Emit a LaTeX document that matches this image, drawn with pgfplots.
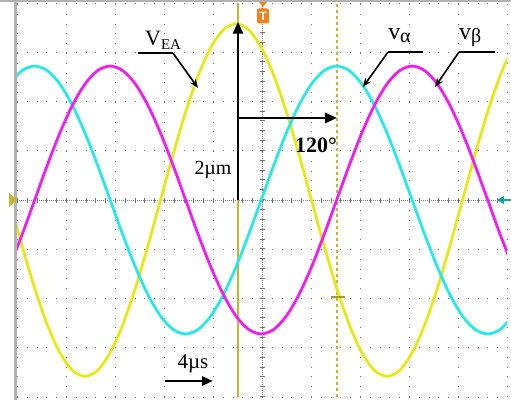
\documentclass[border=0pt]{standalone}
\usepackage{fontspec}
\setmainfont{Liberation Serif}
\usepackage{pgfplots}
\pgfplotsset{compat=1.18}
\usepackage{pgfplotstable}
\usetikzlibrary{arrows.meta}

\definecolor{trY}{RGB}{232,232,24}
\definecolor{trC}{RGB}{40,232,232}
\definecolor{trM}{RGB}{240,30,240}
\definecolor{curs}{RGB}{196,184,40}
\definecolor{trig}{RGB}{242,130,30}
\definecolor{tealm}{RGB}{30,160,160}

% t in us (4 us/div), voltages in divisions
\pgfplotstableread{
t        ea      a       b
-20.612  0.000   2.356  -1.360
-19.585 -0.927   2.627  -0.704
-18.557 -1.790   2.720   0.000
-17.530 -2.531   2.627   0.704
-16.503 -3.100   2.356   1.360
-15.476 -3.458   1.923   1.923
-14.448 -3.580   1.360   2.356
-13.421 -3.458   0.704   2.627
-12.394 -3.100   0.000   2.720
-11.367 -2.531  -0.704   2.627
-10.339 -1.790  -1.360   2.356
-9.312  -0.927  -1.923   1.923
-8.285   0.000  -2.356   1.360
-7.258   0.927  -2.627   0.704
-6.231   1.790  -2.720   0.000
-5.203   2.531  -2.627  -0.704
-4.176   3.100  -2.356  -1.360
-3.149   3.458  -1.923  -1.923
-2.122   3.580  -1.360  -2.356
-1.095   3.458  -0.704  -2.627
-0.067   3.100   0.000  -2.720
 0.960   2.531   0.704  -2.627
 1.987   1.790   1.360  -2.356
 3.014   0.927   1.923  -1.923
 4.041   0.000   2.356  -1.360
 5.068  -0.927   2.627  -0.704
 6.096  -1.790   2.720   0.000
 7.123  -2.531   2.627   0.704
 8.150  -3.100   2.356   1.360
 9.177  -3.458   1.923   1.923
10.205  -3.580   1.360   2.356
11.232  -3.458   0.704   2.627
12.259  -3.100   0.000   2.720
13.286  -2.531  -0.704   2.627
14.313  -1.790  -1.360   2.356
15.341  -0.927  -1.923   1.923
16.368   0.000  -2.356   1.360
17.395   0.927  -2.627   0.704
18.422   1.790  -2.720   0.000
19.450   2.531  -2.627  -0.704
20.477   3.100  -2.356  -1.360
}\scopedata

\begin{document}
\begin{tikzpicture}
\useasboundingbox (0,0) rectangle (511bp,400bp);

\begin{axis}[
    at={(17bp,3bp)}, anchor=south west,
    scale only axis, width=490bp, height=394bp,
    xmin=-20, xmax=20, ymin=-4, ymax=4,
    xtick={-20,-16,...,20}, ytick={-4,-3,...,4},
    xticklabels={}, yticklabels={},
    major tick length=0pt,
    axis line style={draw=none},
    grid=major,
    major grid style={black!55, line width=0.9bp, dash pattern=on 0.9bp off 8.9bp},
]

% centre axes with minor ticks
\draw[black!50, dash pattern=on 0.8bp off 1.2bp] (axis cs:-20,0) -- (axis cs:20,0);
\draw[black!55, line width=5bp, dash pattern=on 0.8bp off 9bp] (axis cs:-20,0) -- (axis cs:20,0);
\draw[black!50, dash pattern=on 0.8bp off 1.2bp] (axis cs:0,-4) -- (axis cs:0,4);
\draw[black!55, line width=5bp, dash pattern=on 0.8bp off 9.05bp] (axis cs:0,-4) -- (axis cs:0,4);

% cursors
\draw[curs, line width=1.4bp] (axis cs:-1.959,-4) -- (axis cs:-1.959,4);
\draw[curs, line width=1.2bp, dash pattern=on 3bp off 3bp] (axis cs:6.122,-4) -- (axis cs:6.122,4);

% traces
\addplot[trY, line width=2.8bp, smooth, no markers] table[x=t, y=ea] {\scopedata};
\addplot[trC, line width=2.8bp, smooth, no markers] table[x=t, y=a] {\scopedata};
\addplot[trM, line width=2.8bp, smooth, no markers] table[x=t, y=b] {\scopedata};

% annotations
\draw[line width=2.8bp, -{Triangle[length=12bp,width=10bp]}] (axis cs:-1.959,0) -- (axis cs:-1.959,3.62);
\draw[line width=2.8bp, -{Triangle[length=12bp,width=10bp]}] (axis cs:-1.959,1.665) -- (axis cs:6.122,1.665);
\draw[line width=2.8bp, -{Triangle[length=11bp,width=9bp]}] (axis cs:-7.92,-3.675) -- (axis cs:-4.0,-3.675);

\node[font=\fontsize{22}{24}\selectfont\bfseries] at (axis cs:4.41,1.117) {120°};
\node[font=\fontsize{20}{22}\selectfont] at (axis cs:-4.0,0.609) {2µm};
\node[font=\fontsize{21}{22}\selectfont] at (axis cs:-5.63,-3.33) {4µs};

% V_EA
\node[anchor=base west, inner sep=0, font=\fontsize{22}{24}\selectfont] at (axis cs:-9.55,3.147)
    {V\raisebox{-4bp}{\fontsize{15}{16}\selectfont EA}};
\draw[line width=1.2bp] (axis cs:-10.12,2.985) -- (axis cs:-7.27,2.985);
\draw[line width=1.6bp, -{Stealth[length=9bp,width=7bp]}] (axis cs:-7.27,2.985) -- (axis cs:-5.22,2.274);

% v_alpha
\node[anchor=base west, inner sep=0, font=\fontsize{24}{26}\selectfont] at (axis cs:10.29,3.249)
    {v\raisebox{-3bp}{\fontsize{20}{22}\selectfont α}};
\draw[line width=1.2bp] (axis cs:13.14,3.005) -- (axis cs:10.29,3.005);
\draw[line width=1.6bp, -{Stealth[length=9bp,width=7bp]}] (axis cs:10.29,3.005) -- (axis cs:8.24,2.294);

% v_beta
\node[anchor=base west, inner sep=0, font=\fontsize{24}{26}\selectfont] at (axis cs:16.08,3.249)
    {v\raisebox{-3bp}{\fontsize{20}{22}\selectfont β}};
\draw[line width=1.2bp] (axis cs:19.02,3.005) -- (axis cs:16.08,3.005);
\draw[line width=1.6bp, -{Stealth[length=9bp,width=7bp]}] (axis cs:16.08,3.005) -- (axis cs:14.12,2.294);
\end{axis}

% scope frame and markers
\draw[gray!60, line width=3bp] (15.5bp,0) -- (15.5bp,400bp);
\draw[gray!60, line width=2bp] (0,399bp) -- (511bp,399bp);
\fill[curs] (9bp,207bp) -- (17bp,200bp) -- (9bp,193bp) -- cycle;
\draw[tealm, line width=2bp, -{Triangle[length=7bp,width=8bp]}] (511bp,200bp) -- (497bp,200bp);
\draw[curs!85!black, line width=2bp] (331bp,103bp) -- (345bp,103bp);
\fill[trig] (259bp,398bp) -- (267bp,398bp) -- (263bp,393bp) -- cycle;
\node[fill=trig, rounded corners=2bp, minimum width=12bp, minimum height=15bp, inner sep=0,
      text=white, font=\sffamily\bfseries\fontsize{12}{12}\selectfont] at (263bp,384bp) {T};
\end{tikzpicture}
\end{document}
